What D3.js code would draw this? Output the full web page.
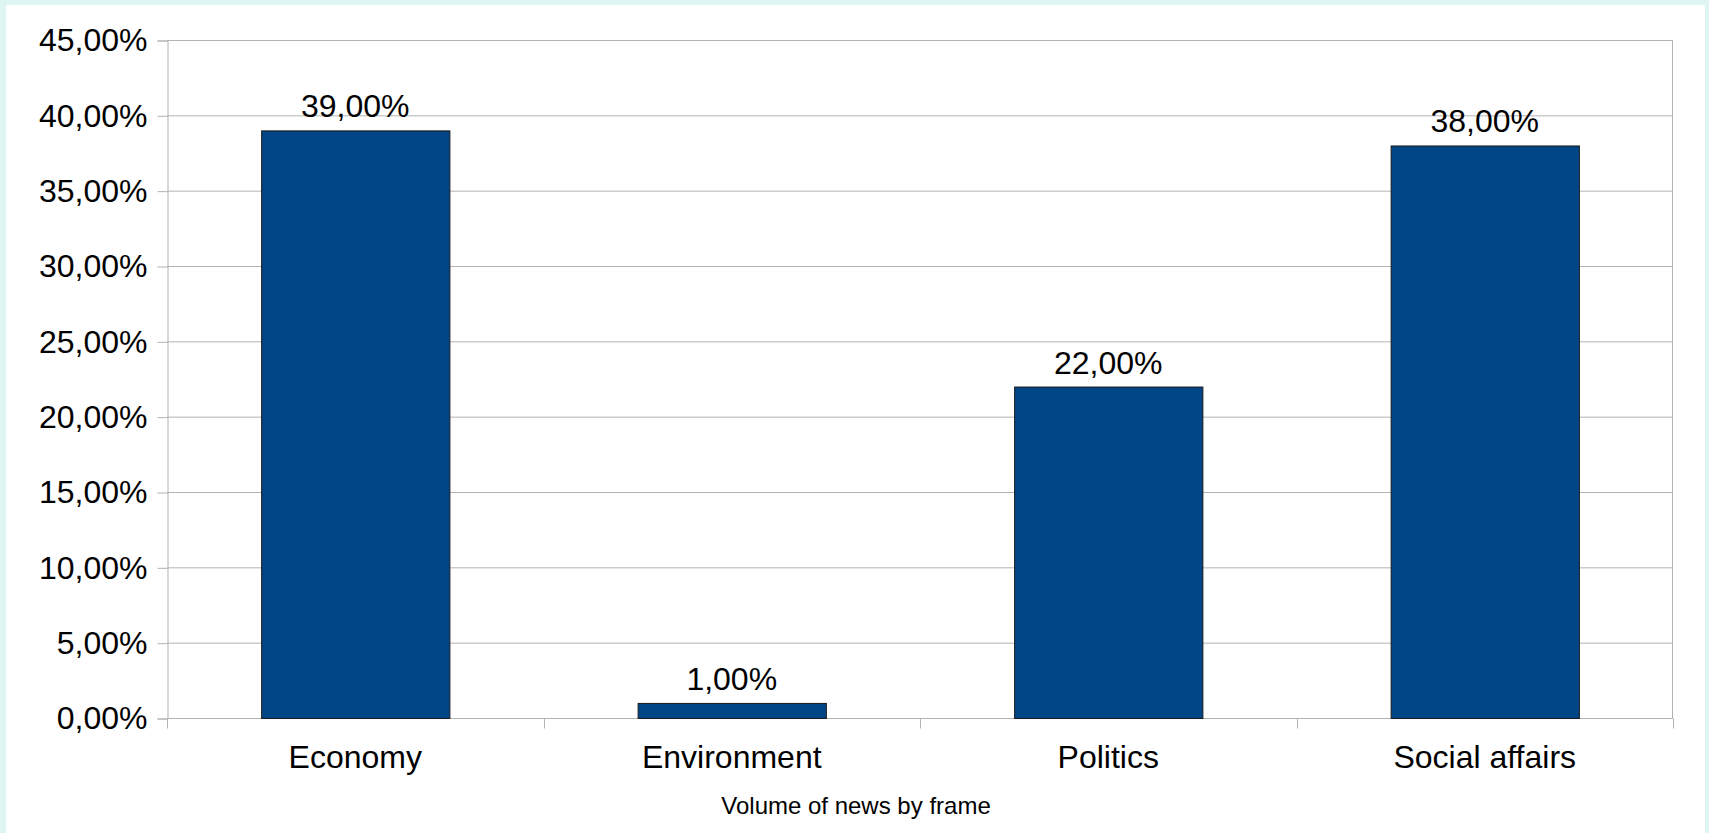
<!DOCTYPE html>
<html>
<head>
<meta charset="utf-8">
<script src="https://cdn.jsdelivr.net/npm/d3@7"></script>
<style>
  html, body { margin: 0; padding: 0; background: #dff5f1; }
  svg { display: block; }
  text { font-family: "Liberation Sans", Arial, sans-serif; fill: #000; }
</style>
</head>
<body>
<svg id="chart" width="1709" height="833"></svg>
<script>
const categories = ["Economy", "Environment", "Politics", "Social affairs"];
const values = [39, 1, 22, 38];
const yTicks = [0, 5, 10, 15, 20, 25, 30, 35, 40, 45];
const axisTitle = "Volume of news by frame";

const W = 1709, H = 833;
const plot = { left: 167, right: 1673, top: 40, bottom: 719 };
const svg = d3.select("#chart");

svg.append("rect").attr("x", 6).attr("y", 5).attr("width", 1699).attr("height", H - 5).attr("fill", "#ffffff");

const y = d3.scaleLinear().domain([0, 45]).range([plot.bottom - 0.5, plot.top + 0.5]);
const x = d3.scaleBand().domain(categories).range([plot.left, plot.right])
  .paddingInner(0.5).paddingOuter(0.25);

const fmt = v => d3.format(".2f")(v).replace(".", ",") + "%";
const grid = "#b3b3b3";

// gridlines
svg.append("g").selectAll("line").data(yTicks).join("line")
  .attr("x1", plot.left).attr("x2", plot.right)
  .attr("y1", d => y(d)).attr("y2", d => y(d))
  .attr("stroke", grid).attr("stroke-width", 1);

// right frame line
svg.append("line").attr("x1", plot.right - 0.5).attr("x2", plot.right - 0.5)
  .attr("y1", y(45)).attr("y2", y(0)).attr("stroke", grid);

// y axis
const yAxis = svg.append("g").attr("transform", `translate(${plot.left + 0.5},0)`)
  .call(d3.axisLeft(y).tickValues(yTicks).tickSize(10).tickPadding(10).tickFormat(fmt));
yAxis.select(".domain").attr("stroke", grid);
yAxis.selectAll(".tick line").attr("stroke", grid);
yAxis.selectAll(".tick text").attr("font-size", 32).attr("fill", "#000")
  .attr("font-family", '"Liberation Sans", Arial, sans-serif');

// category boundary ticks on x axis
const step = x.step();
const bounds = d3.range(categories.length + 1).map(i => plot.left + i * step);
svg.append("g").selectAll("line").data(bounds).join("line")
  .attr("x1", d => Math.round(d) + 0.5).attr("x2", d => Math.round(d) + 0.5)
  .attr("y1", y(0)).attr("y2", y(0) + 10)
  .attr("stroke", grid);

// bars
svg.append("g").selectAll("rect").data(values).join("rect")
  .attr("x", (d, i) => x(categories[i]) + 0.5)
  .attr("y", d => y(d))
  .attr("width", x.bandwidth())
  .attr("height", d => y(0) - y(d))
  .attr("fill", "#004586")
  .attr("stroke", "#1a1a1a").attr("stroke-width", 1);

// value labels
svg.append("g").selectAll("text").data(values).join("text")
  .attr("x", (d, i) => x(categories[i]) + x.bandwidth() / 2)
  .attr("y", d => y(d) - 13.5)
  .attr("text-anchor", "middle").attr("font-size", 32)
  .text(d => fmt(d));

// category labels
svg.append("g").selectAll("text").data(categories).join("text")
  .attr("x", d => x(d) + x.bandwidth() / 2)
  .attr("y", y(0) + 49.5)
  .attr("text-anchor", "middle").attr("font-size", 32)
  .text(d => d);

// axis title
svg.append("text").attr("x", 856).attr("y", 813.5)
  .attr("text-anchor", "middle").attr("font-size", 24)
  .text(axisTitle);
</script>
</body>
</html>
